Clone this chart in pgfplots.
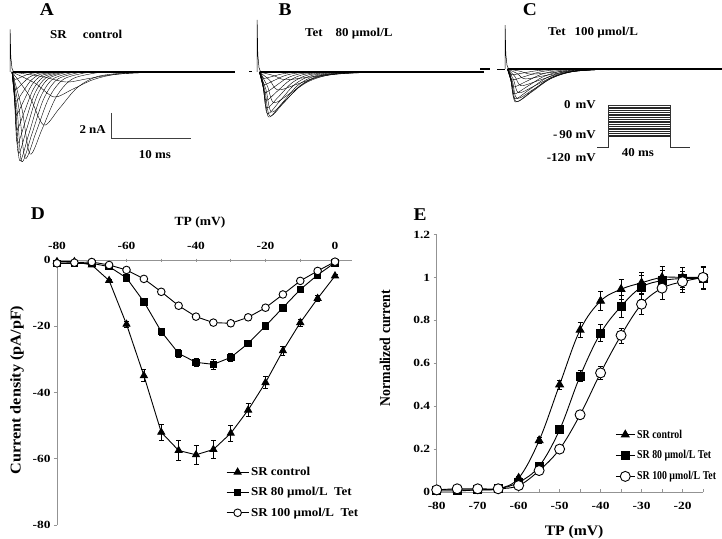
\documentclass[border=0pt]{standalone}
\usepackage{fontspec}
\setmainfont{Liberation Serif}[FakeStretch=1.08]
\newfontfamily\narrowfont{Liberation Serif}[FakeStretch=0.92]
\newfontfamily\condfont{Liberation Serif}[FakeStretch=0.82]
\newfontfamily\tickfont{Liberation Serif}[FakeStretch=1.22]
\usepackage{pgfplots}
\pgfplotsset{compat=1.18}
\begin{document}
\begin{tikzpicture}
\useasboundingbox (0pt,0pt) rectangle (722pt,538pt);
\pgfplotsset{
 trace/.style={black, line width=0.4pt, smooth, tension=0.5, mark=none},
 topax/.style={hide axis, clip=false, scale only axis, anchor=south west, ymin=-8, ymax=4, height=150pt, xmin=0},
 legimg/.style={legend image code/.code={\draw[mark repeat=2,mark phase=2,##1] plot coordinates {(0pt,0pt)(#1/2,0pt)(#1,0pt)};}},
}
% ---------------- Panel A ----------------
\begin{axis}[topax, at={(10pt,366pt)}, width=225pt, xmax=28.125]
\addplot[black, line width=2.4pt] coordinates {(0.4,0)(28.1,0)};
\addplot[black, line width=0.5pt] coordinates {(0,0)(0.02,3.4)(0.1,1.2)(0.25,0.3)(0.45,0)};
\addplot[trace] coordinates {(0.25,0)(3.96,-0.36)(7,-0.8)(9.5,-0.56)(12.5,-0.24)(16,-0.064)(22,0)};
\addplot[trace] coordinates {(0.25,0)(3.14,-0.9)(5.5,-2.0)(7.75,-1.4)(10.45,-0.6)(13.6,-0.16)(19,0)};
\addplot[trace] coordinates {(0.25,0)(2.42,-1.91)(4.2,-4.24)(6.1,-2.97)(8.38,-1.27)(11.04,-0.34)(15.6,0)};
\addplot[trace] coordinates {(0.25,0)(1.49,-2.95)(2.5,-6.56)(4.0,-4.59)(5.8,-1.97)(7.9,-0.52)(11.5,0)};
\addplot[trace] coordinates {(0.25,0)(1.16,-3.1)(1.9,-6.9)(3.25,-4.83)(4.87,-2.07)(6.76,-0.55)(10,0)};
\addplot[trace] coordinates {(0.25,0)(0.92,-3.23)(1.46,-7.17)(2.71,-5.02)(4.21,-2.15)(5.96,-0.57)(8.96,0)};
\addplot[trace] coordinates {(0.25,0)(0.77,-3.2)(1.2,-7.1)(2.35,-4.97)(3.73,-2.13)(5.34,-0.57)(8.1,0)};
\addplot[trace] coordinates {(0.25,0)(0.68,-2.93)(1.04,-6.5)(2.09,-4.55)(3.35,-1.95)(4.82,-0.52)(7.34,0)};
\addplot[trace] coordinates {(0.25,0)(0.61,-2.57)(0.9,-5.7)(1.9,-3.99)(3.1,-1.71)(4.5,-0.46)(6.9,0)};
\addplot[trace] coordinates {(0.25,0)(0.56,-2.07)(0.82,-4.6)(1.77,-3.22)(2.91,-1.38)(4.24,-0.37)(6.52,0)};
\addplot[trace] coordinates {(0.25,0)(0.53,-1.53)(0.76,-3.4)(1.66,-2.38)(2.74,-1.02)(4.0,-0.27)(6.16,0)};
\addplot[trace] coordinates {(0.25,0)(0.5,-1.06)(0.7,-2.35)(1.55,-1.65)(2.57,-0.71)(3.76,-0.19)(5.8,0)};
\addplot[trace] coordinates {(0.25,0)(0.47,-0.63)(0.65,-1.4)(1.45,-0.98)(2.41,-0.42)(3.53,-0.11)(5.45,0)};
\addplot[trace] coordinates {(0.25,0)(0.44,-0.27)(0.6,-0.6)(1.35,-0.42)(2.25,-0.18)(3.3,-0.05)(5.1,0)};
\addplot[black!75, line width=0.6pt] coordinates {(12.625,-3.28)(12.625,-5.28)(22.625,-5.28)};
\end{axis}
% ---------------- Panel B ----------------
\begin{axis}[topax, at={(257pt,366pt)}, width=228pt, xmax=28.5]
\addplot[black, line width=2.4pt] coordinates {(0.4,0)(28.4,0)};
\addplot[black, line width=1pt] coordinates {(-1.0,0)(-0.6,0)};
\addplot[black, line width=0.5pt] coordinates {(0,0)(0.02,4.16)(0.1,1.4)(0.25,0.35)(0.45,0)};
\addplot[trace] coordinates {(0.3,0)(2.06,-0.28)(3.5,-0.62)(6.25,-0.43)(9.55,-0.19)(13.4,-0.05)(20,0)};
\addplot[trace] coordinates {(0.3,0)(1.57,-0.65)(2.6,-1.44)(4.85,-1.01)(7.55,-0.43)(10.7,-0.12)(16.1,0)};
\addplot[trace] coordinates {(0.3,0)(1.29,-1.11)(2.1,-2.46)(4.1,-1.72)(6.5,-0.74)(9.3,-0.2)(14.1,0)};
\addplot[trace] coordinates {(0.3,0)(1.13,-1.44)(1.8,-3.2)(3.6,-2.24)(5.76,-0.96)(8.28,-0.26)(12.6,0)};
\addplot[trace] coordinates {(0.3,0)(1.02,-1.58)(1.6,-3.52)(3.35,-2.46)(5.45,-1.06)(7.9,-0.28)(12.1,0)};
\addplot[trace] coordinates {(0.3,0)(0.93,-1.62)(1.45,-3.6)(3.1,-2.52)(5.08,-1.08)(7.39,-0.29)(11.35,0)};
\addplot[trace] coordinates {(0.3,0)(0.85,-1.5)(1.3,-3.33)(2.85,-2.33)(4.71,-1.0)(6.88,-0.27)(10.6,0)};
\addplot[trace] coordinates {(0.3,0)(0.8,-1.29)(1.2,-2.87)(2.65,-2.01)(4.39,-0.86)(6.42,-0.23)(9.9,0)};
\addplot[trace] coordinates {(0.3,0)(0.74,-1.02)(1.1,-2.27)(2.45,-1.59)(4.07,-0.68)(5.96,-0.18)(9.2,0)};
\addplot[trace] coordinates {(0.3,0)(0.69,-0.74)(1.0,-1.64)(2.25,-1.15)(3.75,-0.49)(5.5,-0.13)(8.5,0)};
\addplot[trace] coordinates {(0.3,0)(0.63,-0.45)(0.9,-1.0)(2.05,-0.7)(3.43,-0.3)(5.04,-0.08)(7.8,0)};
\addplot[trace] coordinates {(0.3,0)(0.6,-0.23)(0.85,-0.51)(1.9,-0.36)(3.16,-0.15)(4.63,-0.04)(7.15,0)};
\end{axis}
% ---------------- Panel C ----------------
\begin{axis}[topax, at={(505pt,369pt)}, width=217pt, xmax=27.125]
\addplot[black, line width=2.4pt] coordinates {(0.4,0)(27.1,0)};
\addplot[black, line width=2pt] coordinates {(-3.1,0)(-1.9,0)};
\addplot[black, line width=0.6pt] coordinates {(-1.0,0)(0,0)};
\addplot[black, line width=0.5pt] coordinates {(0,0)(0.02,3.5)(0.1,1.2)(0.25,0.3)(0.45,0)};
\addplot[trace] coordinates {(0.3,0)(1.9,-0.18)(3.2,-0.41)(5.7,-0.29)(8.7,-0.12)(12.2,-0.03)(18.2,0)};
\addplot[trace] coordinates {(0.3,0)(1.51,-0.36)(2.5,-0.79)(4.8,-0.55)(7.56,-0.24)(10.78,-0.06)(16.3,0)};
\addplot[trace] coordinates {(0.3,0)(1.24,-0.6)(2.0,-1.33)(4.15,-0.93)(6.73,-0.4)(9.74,-0.11)(14.9,0)};
\addplot[trace] coordinates {(0.3,0)(1.07,-0.86)(1.7,-1.9)(3.75,-1.33)(6.21,-0.57)(9.08,-0.15)(14.0,0)};
\addplot[trace] coordinates {(0.3,0)(0.96,-1.06)(1.5,-2.36)(3.5,-1.65)(5.9,-0.71)(8.7,-0.19)(13.5,0)};
\addplot[trace] coordinates {(0.3,0)(0.91,-1.17)(1.4,-2.61)(3.35,-1.83)(5.69,-0.78)(8.42,-0.21)(13.1,0)};
\addplot[trace] coordinates {(0.3,0)(0.85,-1.19)(1.3,-2.64)(3.2,-1.85)(5.48,-0.79)(8.14,-0.21)(12.7,0)};
\addplot[trace] coordinates {(0.3,0)(0.8,-1.08)(1.2,-2.39)(3.0,-1.67)(5.16,-0.72)(7.68,-0.19)(12.0,0)};
\addplot[trace] coordinates {(0.3,0)(0.74,-0.9)(1.1,-1.99)(2.8,-1.39)(4.84,-0.6)(7.22,-0.16)(11.3,0)};
\addplot[trace] coordinates {(0.3,0)(0.69,-0.65)(1.0,-1.44)(2.6,-1.01)(4.52,-0.43)(6.76,-0.12)(10.6,0)};
\addplot[trace] coordinates {(0.3,0)(0.63,-0.39)(0.9,-0.87)(2.4,-0.61)(4.2,-0.26)(6.3,-0.07)(9.9,0)};
\addplot[trace] coordinates {(0.3,0)(0.6,-0.21)(0.85,-0.46)(2.25,-0.32)(3.93,-0.14)(5.89,-0.04)(9.25,0)};
\end{axis}
% ---------------- Protocol ----------------
\begin{axis}[hide axis, clip=false, scale only axis, anchor=south west, at={(592.5pt,387.5pt)},
  width=100.75pt, height=49pt, xmin=-10, xmax=55, ymin=-130, ymax=10, unbounded coords=jump]
\addplot[black!85, line width=0.4pt, mark=none] coordinates {
 (0,-90)(40,-90)(40,nan)(0,-85)(40,-85)(40,nan)(0,-80)(40,-80)(40,nan)(0,-75)(40,-75)(40,nan)
 (0,-70)(40,-70)(40,nan)(0,-65)(40,-65)(40,nan)(0,-60)(40,-60)(40,nan)(0,-55)(40,-55)(40,nan)
 (0,-50)(40,-50)(40,nan)(0,-45)(40,-45)(40,nan)(0,-40)(40,-40)(40,nan)(0,-35)(40,-35)(40,nan)
 (0,-30)(40,-30)(40,nan)(0,-25)(40,-25)(40,nan)(0,-20)(40,-20)(40,nan)(0,-15)(40,-15)(40,nan)
 (0,-10)(40,-10)(40,nan)(0,-5)(40,-5)};
\addplot[black!80, line width=0.5pt, mark=none] coordinates {(-7,-120)(0,-120)(0,0)(40,0)(40,-120)(53,-120)};
\end{axis}
% ---------------- Panel D ----------------
\begin{axis}[scale only axis, anchor=south west, at={(57pt,13pt)}, width=295.4pt, height=265pt,
  xmin=-80, xmax=5, ymin=-80, ymax=0,
  axis x line=top, axis y line=left, axis line style={-, gray!85, line width=0.7pt},
  xtick={-80,-60,...,0}, minor xtick={-70,-50,-30,-10}, ytick={-80,-60,...,0},
  xtick align=center, ytick align=outside,
  major tick length=3pt, minor tick length=3pt,
  every tick/.style={gray!85, line width=0.6pt},
  /pgf/number format/assume math mode=true,
  every tick label/.append style={font=\tickfont\bfseries\fontsize{11}{12}\selectfont},
  xticklabel style={yshift=5pt},
  xlabel={TP (mV)}, xlabel style={at={(axis description cs:0.484,1.143)}, anchor=center, font=\bfseries\fontsize{12.5}{14}\selectfont},
  ylabel={Current density (pA/pF)}, ylabel style={at={(axis description cs:-0.135,0.509)}, anchor=center, font=\bfseries\fontsize{15}{17}\selectfont},
  clip=false, legimg=22pt,
  legend style={draw=none, fill=none, at={(axis description cs:0.572,0.2264)}, anchor=north west,
    font=\bfseries\fontsize{12}{14}\selectfont, row sep=6.5pt, inner sep=0pt, cells={anchor=west}},
  error bars/y dir=both, error bars/y explicit,
  error bars/error bar style={black, line width=0.6pt},
  error bars/error mark options={rotate=90, mark size=2.5pt, line width=0.6pt, black},
]
\addplot[black, line width=0.9pt, mark=triangle*, mark size=4pt, mark options={solid, fill=black}] coordinates {
 (-80,-0.5) +- (0,0.3) (-75,-0.5) +- (0,0.3) (-70,-1.5) +- (0,0.3) (-65,-6.2) +- (0,0.5)
 (-60,-19.4) +- (0,1) (-55,-34.9) +- (0,1.8) (-50,-52) +- (0,2.5) (-45,-57.5) +- (0,3)
 (-40,-58.8) +- (0,3) (-35,-57.2) +- (0,2.8) (-30,-52.3) +- (0,2.5) (-25,-45.3) +- (0,2)
 (-20,-37) +- (0,1.8) (-15,-27.4) +- (0,1.4) (-10,-18.9) +- (0,1) (-5,-11.6) +- (0,0.8) (0,-4.8) +- (0,0.5)};
\addlegendentry{SR control}
\addplot[black, line width=0.9pt, mark=square*, mark size=3.3pt, mark options={solid, fill=black}] coordinates {
 (-80,-1) +- (0,0.4) (-75,-1) +- (0,0.4) (-70,-1) +- (0,0.4) (-65,-2) +- (0,0.4)
 (-60,-5.4) +- (0,0.4) (-55,-12.6) +- (0,0.6) (-50,-21.6) +- (0,1) (-45,-28.2) +- (0,1.2)
 (-40,-30.9) +- (0,1.3) (-35,-31.5) +- (0,1.5) (-30,-29.4) +- (0,1.3) (-25,-25.2) +- (0,1)
 (-20,-19.9) +- (0,0.7) (-15,-14.4) +- (0,0.5) (-10,-8.9) +- (0,0.4) (-5,-4.5) +- (0,0.4) (0,-0.8) +- (0,0.4)};
\addlegendentry{SR 80 µmol/L\ \ Tet}
\addplot[black, line width=0.9pt, mark=*, mark size=3.8pt, mark options={solid, fill=white}] coordinates {
 (-80,-1) +- (0,0.4) (-75,-0.8) +- (0,0.4) (-70,-0.6) +- (0,0.4) (-65,-1.5) +- (0,0.4)
 (-60,-3) +- (0,0.4) (-55,-5.7) +- (0,0.4) (-50,-9.6) +- (0,0.5) (-45,-13.8) +- (0,0.5)
 (-40,-17.1) +- (0,0.6) (-35,-18.9) +- (0,0.8) (-30,-19.1) +- (0,0.8) (-25,-17.3) +- (0,0.8)
 (-20,-14.4) +- (0,0.6) (-15,-10.4) +- (0,0.5) (-10,-6.3) +- (0,0.4) (-5,-3.3) +- (0,0.4) (0,-0.5) +- (0,0.4)};
\addlegendentry{SR 100 µmol/L\ \ Tet}
\end{axis}
% ---------------- Panel E ----------------
\begin{axis}[scale only axis, anchor=south west, at={(436.7pt,46pt)}, width=266.3pt, height=257.5pt,
  xmin=-80, xmax=-15, ymin=0, ymax=1.2,
  axis x line=bottom, axis y line=left, axis line style={-, gray!85, line width=0.7pt},
  xtick={-80,-70,...,-20}, minor xtick={-75,-65,...,-15}, ytick={0,0.2,...,1.2},
  xtick align=inside, ytick align=outside,
  major tick length=3pt, minor tick length=3pt,
  every tick/.style={gray!85, line width=0.6pt},
  /pgf/number format/assume math mode=true,
  every tick label/.append style={font=\tickfont\bfseries\fontsize{11}{12}\selectfont},
  xticklabel style={yshift=-7pt},
  xlabel={TP (mV)}, xlabel style={at={(axis description cs:0.516,-0.155)}, anchor=center, font=\bfseries\fontsize{14.5}{16}\selectfont},
  ylabel={Normalized current}, ylabel style={at={(axis description cs:-0.194,0.559)}, anchor=center, font=\narrowfont\bfseries\fontsize{15}{17}\selectfont},
  clip=false, legimg=19pt,
  legend style={draw=none, fill=none, at={(axis description cs:0.67,0.25)}, anchor=north west,
    font=\condfont\bfseries\fontsize{12}{14}\selectfont, row sep=7pt, inner sep=0pt, cells={anchor=west}},
  error bars/y dir=both, error bars/y explicit,
  error bars/error bar style={black, line width=0.6pt},
  error bars/error mark options={rotate=90, mark size=2.5pt, line width=0.6pt, black},
]
\addplot[black, line width=0.9pt, smooth, tension=0.6, mark=triangle*, mark size=4.5pt, mark options={solid, fill=black}] coordinates {
 (-80,0.01) +- (0,0.005) (-75,0.01) +- (0,0.005) (-70,0.01) +- (0,0.005) (-65,0.015) +- (0,0.005)
 (-60,0.065) +- (0,0.01) (-55,0.24) +- (0,0.015) (-50,0.5) +- (0,0.02) (-45,0.755) +- (0,0.035)
 (-40,0.89) +- (0,0.045) (-35,0.945) +- (0,0.045) (-30,0.975) +- (0,0.05) (-25,1.0) +- (0,0.05)
 (-20,1.0) +- (0,0.045) (-15,1.0) +- (0,0.05)};
\addlegendentry{SR control}
\addplot[black, line width=0.9pt, smooth, tension=0.6, mark=square*, mark size=4pt, mark options={solid, fill=black}] coordinates {
 (-80,0.005) +- (0,0.005) (-75,0.005) +- (0,0.005) (-70,0.01) +- (0,0.005) (-65,0.015) +- (0,0.005)
 (-60,0.045) +- (0,0.01) (-55,0.12) +- (0,0.01) (-50,0.29) +- (0,0.015) (-45,0.54) +- (0,0.025)
 (-40,0.74) +- (0,0.04) (-35,0.865) +- (0,0.05) (-30,0.955) +- (0,0.055) (-25,0.985) +- (0,0.05)
 (-20,0.995) +- (0,0.05) (-15,0.995) +- (0,0.05)};
\addlegendentry{SR 80 µmol/L Tet}
\addplot[black, line width=0.9pt, smooth, tension=0.6, mark=*, mark size=5pt, mark options={solid, fill=white}] coordinates {
 (-80,0.01) +- (0,0.005) (-75,0.015) +- (0,0.005) (-70,0.015) +- (0,0.005) (-65,0.015) +- (0,0.005)
 (-60,0.03) +- (0,0.005) (-55,0.1) +- (0,0.01) (-50,0.2) +- (0,0.01) (-45,0.36) +- (0,0.015)
 (-40,0.555) +- (0,0.03) (-35,0.73) +- (0,0.035) (-30,0.875) +- (0,0.045) (-25,0.95) +- (0,0.05)
 (-20,0.98) +- (0,0.05) (-15,1.0) +- (0,0.05)};
\addlegendentry{SR 100 µmol/L Tet}
\end{axis}
% ---------------- Texts ----------------
\node[font=\bfseries\fontsize{18}{20}\selectfont] at (47pt,528pt) {A};
\node[font=\bfseries\fontsize{18}{20}\selectfont] at (285pt,528pt) {B};
\node[font=\bfseries\fontsize{18}{20}\selectfont] at (530pt,528pt) {C};
\node[font=\bfseries\fontsize{18}{20}\selectfont] at (38pt,324pt) {D};
\node[font=\bfseries\fontsize{18}{20}\selectfont] at (420pt,323pt) {E};
\node[font=\bfseries\fontsize{12}{14}\selectfont, anchor=west, inner sep=0pt] at (50pt,504pt) {SR\hspace{16pt}control};
\node[font=\bfseries\fontsize{12}{14}\selectfont, anchor=west, inner sep=0pt] at (305pt,504pt) {Tet\hspace{13pt}80 µmol/L};
\node[font=\bfseries\fontsize{12}{14}\selectfont, anchor=west, inner sep=0pt] at (548pt,505pt) {Tet\hspace{9pt}100 µmol/L};
\node[font=\bfseries\fontsize{12}{14}\selectfont, anchor=east, inner sep=0pt] at (106pt,408pt) {2 nA};
\node[font=\bfseries\fontsize{12}{14}\selectfont, anchor=center, inner sep=0pt] at (155pt,383pt) {10 ms};
\node[font=\bfseries\fontsize{12}{14}\selectfont, anchor=east, inner sep=0pt] at (596pt,433pt) {0\hspace{5pt}mV};
\node[font=\bfseries\fontsize{12}{14}\selectfont, anchor=east, inner sep=0pt] at (596pt,403pt) {-\hspace{2pt}90 mV};
\node[font=\bfseries\fontsize{12}{14}\selectfont, anchor=east, inner sep=0pt] at (596pt,380pt) {-120\hspace{5pt}mV};
\node[font=\bfseries\fontsize{12}{14}\selectfont, anchor=center, inner sep=0pt] at (638pt,385pt) {40 ms};
\end{tikzpicture}
\end{document}
